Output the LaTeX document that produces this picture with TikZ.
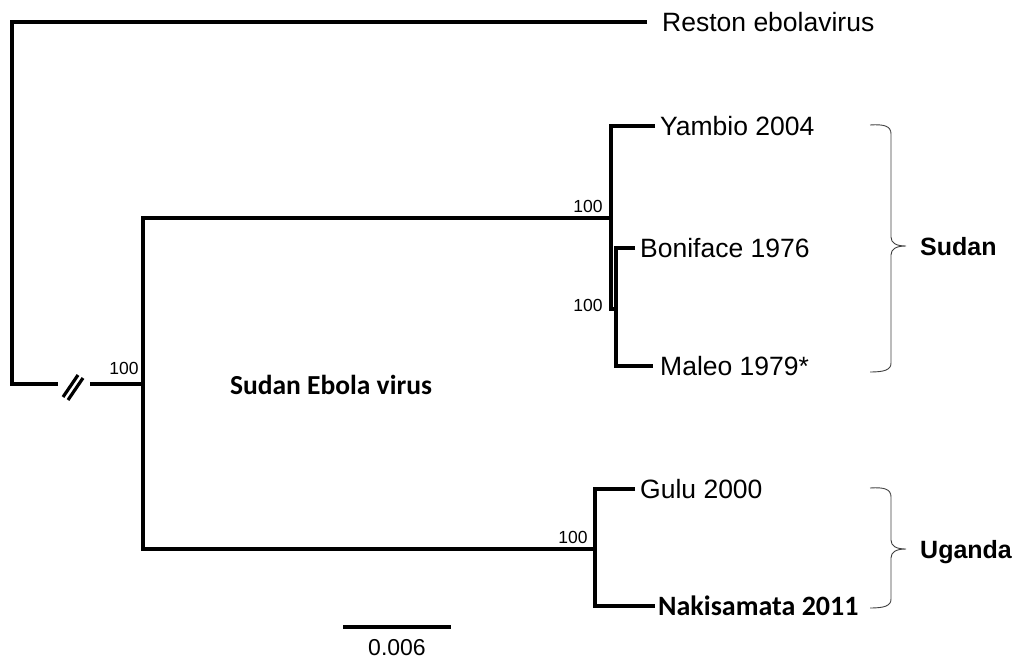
\documentclass[tikz,border=0pt]{standalone}
\usepackage{fontspec}
\setmainfont{Liberation Sans}
\newfontfamily\calibri{Carlito}
\begin{document}
\begin{tikzpicture}[x=1pt,y=-1pt,
  branch/.style={line width=3.2pt, line cap=butt, line join=miter},
  leaf/.style={anchor=west, inner xsep=0pt, inner ysep=0pt, text height=19pt, text depth=0pt, font=\fontsize{26.5}{30}\selectfont},
  leafbold/.style={anchor=west, inner xsep=0pt, inner ysep=0pt, text height=18pt, text depth=0pt, font=\calibri\bfseries\fontsize{28}{32}\selectfont},
  boot/.style={font=\fontsize{17.5}{20}\selectfont, inner sep=0pt},
  clade/.style={anchor=west, inner sep=0pt, text height=18pt, text depth=0pt, font=\bfseries\fontsize{25}{30}\selectfont},
  bracket/.style={line width=0.9pt, draw=black!75}]
\useasboundingbox (0,0) rectangle (1016,662);

% internal nodes
\coordinate (root) at (12,22);
\coordinate (rootb) at (12,384);
\coordinate (sev) at (143,384);
\coordinate (sudtop) at (143,218);
\coordinate (ugbot) at (143,549);
\coordinate (sud) at (611,218);
\coordinate (ug) at (595,549);
\coordinate (inner) at (611,309);
\coordinate (innerb) at (616,309);

% leaves
\node[leaf] (reston) at (662,22) {Reston ebolavirus};
\node[leaf] (yambio) at (660,126) {Yambio 2004};
\node[leaf] (boniface) at (640,248) {Boniface 1976};
\node[leaf] (maleo) at (660,366) {Maleo 1979*};
\node[leaf] (gulu) at (640,489) {Gulu 2000};
\node[leafbold] (naki) at (658,606) {Nakisamata 2011};

% branches
\draw[branch] ([xshift=-15pt]reston.west) -| (rootb) -- (58,384);
\draw[branch] (90,384) -- (sev);
\draw[branch] (63,397) -- (78,375);
\draw[branch] (68,400) -- (83,378);
\draw[branch] (sud) -- (sudtop) -- (ugbot) -- (ug);
\draw[branch] ([xshift=-5pt]yambio.west) -| (inner) -- (innerb);
\draw[branch] ([xshift=-5pt]boniface.west) -| (innerb) |- ([xshift=-7pt]maleo.west);
\draw[branch] ([xshift=-5pt]gulu.west) -| (ug) |- ([xshift=-3pt]naki.west);

% bootstrap
\node[boot] (b1) at (124,368) {100};
\node[boot] (b2) at (588,206) {100};
\node[boot] (b3) at (588,305) {100};
\node[boot] (b4) at (573,537) {100};

% center label
\node[font=\calibri\bfseries\fontsize{27.5}{32}\selectfont, inner sep=0pt] (sevlabel) at (331,385) {Sudan Ebola virus};

% brackets
\draw[bracket] (870,125) .. controls (884,124) and (891,126) .. (891,134) -- (891,237)
  .. controls (891,243) and (896,246) .. (906,246)
  .. controls (896,246) and (891,249) .. (891,255) -- (891,363)
  .. controls (891,370) and (884,372) .. (870,372);
\node[clade] (sudan) at (920,246) {Sudan};
\draw[bracket] (870,488) .. controls (884,487) and (891,489) .. (891,497) -- (891,540)
  .. controls (891,546) and (896,549) .. (906,549)
  .. controls (896,549) and (891,552) .. (891,558) -- (891,599)
  .. controls (891,606) and (884,608) .. (870,608);
\node[clade] (uganda) at (920,549) {Uganda};

% scale bar
\coordinate (sb1) at (343,627);
\coordinate (sb2) at (451,627);
\draw[line width=4pt] (sb1) -- (sb2);
\node[font=\fontsize{23}{26}\selectfont, inner sep=0pt] (sblabel) at (397,648) {0.006};
\end{tikzpicture}
\end{document}
